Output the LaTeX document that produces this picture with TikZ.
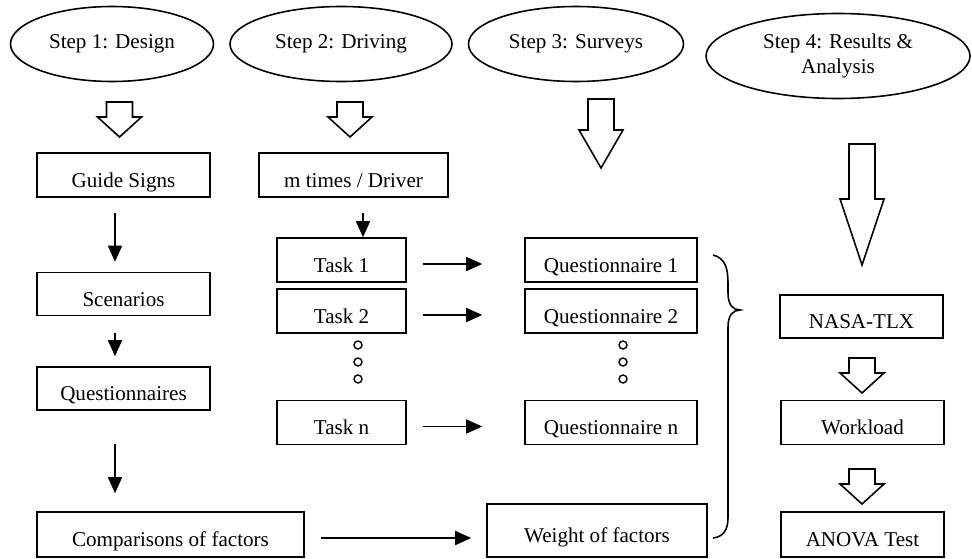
\documentclass[tikz,border=0pt]{standalone}
\usepackage{fontspec}
\setmainfont{Liberation Serif}
\usetikzlibrary{shapes.geometric,arrows.meta}
\tikzset{
  stepnode/.style={draw,ellipse,inner sep=0pt,align=center,minimum height=1.5cm},
  flowbox/.style={draw,rectangle,inner xsep=2pt,inner ysep=0pt,text height=19pt,text depth=5pt,minimum height=0.88cm,minimum width=#1},
  link/.style={-{Triangle[length=0.32cm,width=0.28cm]}}
}
\newcommand{\hollowarrow}[4]{%
  \draw[fill=white] (#1-0.26,#2) -- (#1+0.26,#2) -- (#1+0.26,#3) -- (#1+0.44,#3) -- (#1,#4) -- (#1-0.44,#3) -- (#1-0.26,#3) -- cycle;}
\begin{document}
\begin{tikzpicture}[line width=0.9pt,font=\fontsize{12pt}{14pt}\selectfont]
\useasboundingbox (0,0) rectangle (19.44,11.16);
\node[stepnode,minimum width=4.06cm] (s1) at (2.24,10.28) {Step 1: Design};
\node[stepnode,minimum width=4.44cm] (s2) at (6.82,10.28) {Step 2: Driving};
\node[stepnode,minimum width=4.30cm] (s3) at (11.52,10.28) {Step 3: Surveys};
\node[stepnode,minimum width=5.28cm,minimum height=1.7cm] (s4) at (16.76,10.04) {Step 4: Results \&\\Analysis};
\hollowarrow{2.39}{9.12}{8.82}{8.42}
\hollowarrow{7.00}{9.12}{8.82}{8.42}
\hollowarrow{12.02}{9.18}{8.56}{7.80}
\hollowarrow{17.24}{8.28}{7.18}{5.86}
\hollowarrow{17.24}{4.00}{3.70}{3.30}
\hollowarrow{17.24}{1.78}{1.48}{1.08}
\node[flowbox=3.46cm] (guide) at (2.47,7.66) {Guide Signs};
\node[flowbox=3.46cm,minimum height=0.86cm] (scen) at (2.47,5.28) {Scenarios};
\node[flowbox=3.46cm,minimum height=0.86cm] (quest) at (2.47,3.39) {Questionnaires};
\node[flowbox=5.34cm,minimum height=0.9cm] (comp) at (3.41,0.47) {Comparisons of factors};
\node[flowbox=3.78cm] (mtimes) at (7.07,7.66) {m times / Driver};
\node[flowbox=2.58cm] (task1) at (6.83,5.96) {Task 1};
\node[flowbox=2.58cm] (task2) at (6.83,4.94) {Task 2};
\node[flowbox=2.58cm] (taskn) at (6.83,2.71) {Task n};
\node[flowbox=3.44cm] (q1) at (12.22,5.96) {Questionnaire 1};
\node[flowbox=3.44cm] (q2) at (12.22,4.94) {Questionnaire 2};
\node[flowbox=3.44cm] (qn) at (12.22,2.71) {Questionnaire n};
\node[flowbox=4.40cm,minimum height=1.06cm] (weight) at (11.94,0.55) {Weight of factors};
\node[flowbox=3.26cm,minimum height=0.86cm] (nasa) at (17.23,4.83) {NASA-TLX};
\node[flowbox=3.26cm] (work) at (17.25,2.71) {Workload};
\node[flowbox=3.26cm,minimum height=0.9cm] (anova) at (17.25,0.47) {ANOVA Test};
\draw[link,shorten <=0.3cm,shorten >=0.2cm] ([xshift=-0.17cm]guide.south) -- ([xshift=-0.17cm]scen.north);
\draw[link,shorten <=0.34cm,shorten >=0.2cm] ([xshift=-0.17cm]scen.south) -- ([xshift=-0.17cm]quest.north);
\draw[link,shorten <=0.66cm,shorten >=0.36cm] ([xshift=-0.17cm]quest.south) -- ([xshift=-0.17cm]quest.south |- comp.north);
\draw[link,shorten <=0.3cm] ([xshift=0.19cm]mtimes.south) -- ([xshift=0.19cm]mtimes.south |- task1.north);
\foreach \t/\q in {task1/q1,task2/q2,taskn/qn}
  \draw[link,shorten <=0.32cm,shorten >=0.84cm] ([yshift=-0.08cm]\t.east) -- ([yshift=-0.08cm]\q.west);
\draw[link,shorten <=0.32cm,shorten >=0.3cm] ([yshift=-0.07cm]comp.east) -- ([yshift=-0.07cm]comp.east -| weight.west);
\foreach \x in {7.16,12.46}
  \foreach \y in {4.26,3.92,3.58}
    \draw[line width=0.8pt] (\x,\y) circle (0.08);
\draw (14.26,6.06) .. controls (14.50,6.00) and (14.56,5.80) .. (14.56,5.50) -- (14.56,5.30) .. controls (14.56,5.06) and (14.66,4.96) .. (14.80,4.96) .. controls (14.66,4.96) and (14.56,4.86) .. (14.56,4.62) -- (14.56,0.80) .. controls (14.56,0.56) and (14.46,0.42) .. (14.26,0.40);
\end{tikzpicture}
\end{document}
